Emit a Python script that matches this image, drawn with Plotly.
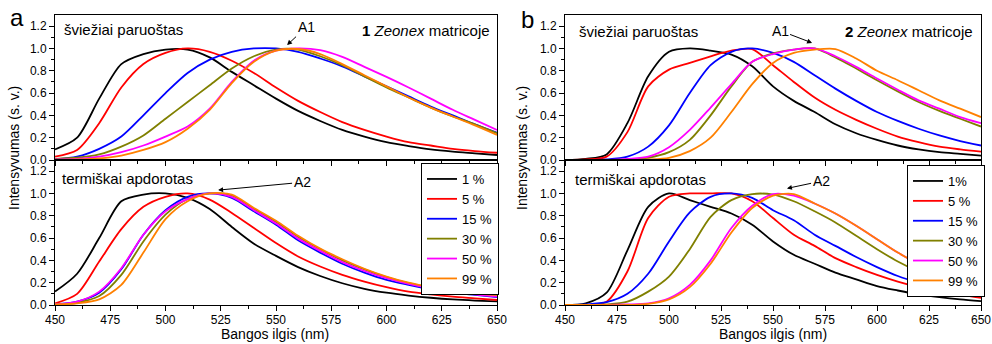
import plotly.graph_objects as go

# ---------------- data ----------------
WAVELENGTH = [450, 460, 470, 480, 490, 500, 510, 520, 530, 540, 550,
              560, 570, 580, 590, 600, 610, 620, 630, 640, 650]

SERIES_A = ["1 %", "5 %", "15 %", "30 %", "50 %", "99 %"]
SERIES_B = ["1%", "5 %", "15 %", "30 %", "50 %", "99 %"]
COLORS = ["#000000", "#FF0000", "#0000FF", "#808000", "#FF00FF", "#FF8000"]

# panel a, freshly prepared
A_FRESH_1 = [0.095, 0.20, 0.55, 0.86, 0.95, 0.99, 0.99, 0.92, 0.79, 0.67, 0.55, 0.44, 0.35, 0.27, 0.21, 0.16, 0.125, 0.095, 0.075, 0.06, 0.045]
A_FRESH_5 = [0.03, 0.09, 0.33, 0.65, 0.86, 0.96, 1.0, 0.97, 0.89, 0.78, 0.65, 0.53, 0.43, 0.34, 0.27, 0.21, 0.16, 0.13, 0.10, 0.08, 0.065]
A_FRESH_15 = [0.005, 0.03, 0.10, 0.21, 0.40, 0.60, 0.78, 0.90, 0.97, 1.0, 1.0, 0.97, 0.91, 0.84, 0.75, 0.66, 0.57, 0.48, 0.40, 0.32, 0.245]
A_FRESH_30 = [0.01, 0.02, 0.05, 0.12, 0.22, 0.37, 0.52, 0.67, 0.82, 0.93, 0.99, 0.99, 0.93, 0.85, 0.75, 0.65, 0.56, 0.47, 0.39, 0.32, 0.24]
A_FRESH_50 = [0.005, 0.01, 0.03, 0.07, 0.13, 0.21, 0.30, 0.46, 0.70, 0.89, 0.98, 1.0, 0.985, 0.925, 0.835, 0.745, 0.65, 0.55, 0.45, 0.36, 0.27]
A_FRESH_99 = [0.0, 0.005, 0.015, 0.04, 0.09, 0.16, 0.28, 0.45, 0.69, 0.88, 0.98, 0.995, 0.95, 0.86, 0.76, 0.66, 0.56, 0.47, 0.39, 0.31, 0.225]

# panel a, thermally treated
A_HEAT_1 = [0.12, 0.28, 0.60, 0.93, 0.99, 1.0, 0.96, 0.86, 0.70, 0.55, 0.44, 0.34, 0.26, 0.195, 0.145, 0.11, 0.085, 0.065, 0.05, 0.04, 0.033]
A_HEAT_5 = [0.015, 0.10, 0.39, 0.68, 0.88, 0.97, 1.0, 0.945, 0.825, 0.69, 0.555, 0.435, 0.345, 0.27, 0.21, 0.16, 0.12, 0.095, 0.075, 0.06, 0.045]
A_HEAT_15 = [0.005, 0.03, 0.11, 0.32, 0.63, 0.85, 0.97, 1.0, 0.96, 0.84, 0.72, 0.58, 0.47, 0.37, 0.29, 0.225, 0.18, 0.14, 0.11, 0.09, 0.07]
A_HEAT_30 = [0.005, 0.02, 0.08, 0.27, 0.57, 0.81, 0.95, 1.0, 0.98, 0.86, 0.745, 0.61, 0.50, 0.40, 0.32, 0.25, 0.195, 0.155, 0.125, 0.10, 0.085]
A_HEAT_50 = [0.005, 0.03, 0.12, 0.33, 0.63, 0.84, 0.95, 1.0, 0.97, 0.85, 0.73, 0.595, 0.485, 0.385, 0.305, 0.24, 0.19, 0.15, 0.12, 0.095, 0.075]
A_HEAT_99 = [0.005, 0.015, 0.05, 0.18, 0.47, 0.77, 0.93, 1.0, 0.99, 0.87, 0.755, 0.62, 0.505, 0.41, 0.325, 0.255, 0.20, 0.16, 0.13, 0.105, 0.09]

# panel b, freshly prepared
B_FRESH_1 = [0.0, 0.01, 0.05, 0.33, 0.75, 0.97, 1.0, 0.98, 0.945, 0.84, 0.66, 0.53, 0.43, 0.32, 0.24, 0.18, 0.13, 0.095, 0.07, 0.055, 0.04]
B_FRESH_5 = [0.0, 0.005, 0.03, 0.25, 0.66, 0.81, 0.87, 0.93, 0.98, 0.995, 0.85, 0.70, 0.56, 0.45, 0.36, 0.28, 0.21, 0.16, 0.12, 0.095, 0.075]
B_FRESH_15 = [0.0, 0.0, 0.005, 0.03, 0.12, 0.31, 0.60, 0.85, 0.97, 1.0, 0.96, 0.88, 0.76, 0.64, 0.53, 0.43, 0.35, 0.28, 0.22, 0.17, 0.13]
B_FRESH_30 = [0.0, 0.0, 0.0, 0.005, 0.02, 0.07, 0.18, 0.40, 0.66, 0.88, 0.955, 0.99, 1.0, 0.92, 0.82, 0.715, 0.615, 0.52, 0.44, 0.37, 0.30]
B_FRESH_50 = [0.0, 0.0, 0.0, 0.01, 0.03, 0.115, 0.27, 0.47, 0.68, 0.88, 0.95, 0.99, 1.0, 0.93, 0.835, 0.73, 0.63, 0.535, 0.46, 0.385, 0.33]
B_FRESH_99 = [0.0, 0.0, 0.0, 0.0, 0.005, 0.02, 0.08, 0.20, 0.43, 0.68, 0.87, 0.96, 0.99, 0.995, 0.91, 0.80, 0.715, 0.625, 0.535, 0.46, 0.385]

# panel b, thermally treated
B_HEAT_1 = [0.0, 0.015, 0.11, 0.49, 0.88, 1.0, 0.94, 0.88, 0.82, 0.72, 0.57, 0.45, 0.37, 0.29, 0.23, 0.17, 0.13, 0.095, 0.07, 0.05, 0.035]
B_HEAT_5 = [0.0, 0.0, 0.03, 0.30, 0.78, 0.97, 1.0, 1.0, 1.0, 0.93, 0.78, 0.63, 0.53, 0.42, 0.34, 0.27, 0.21, 0.16, 0.12, 0.09, 0.065]
B_HEAT_15 = [0.0, 0.005, 0.025, 0.10, 0.28, 0.57, 0.83, 0.97, 1.0, 0.96, 0.85, 0.76, 0.63, 0.53, 0.43, 0.34, 0.26, 0.20, 0.15, 0.11, 0.08]
B_HEAT_30 = [0.0, 0.0, 0.005, 0.03, 0.12, 0.255, 0.50, 0.79, 0.94, 0.995, 0.99, 0.93, 0.84, 0.74, 0.62, 0.50, 0.39, 0.30, 0.23, 0.17, 0.13]
B_HEAT_50 = [0.0, 0.0, 0.0, 0.005, 0.015, 0.06, 0.18, 0.40, 0.69, 0.89, 0.995, 0.98, 0.91, 0.82, 0.71, 0.59, 0.47, 0.37, 0.30, 0.245, 0.20]
B_HEAT_99 = [0.0, 0.0, 0.0, 0.0, 0.01, 0.05, 0.16, 0.37, 0.65, 0.87, 0.98, 0.995, 0.91, 0.82, 0.71, 0.59, 0.47, 0.37, 0.30, 0.245, 0.20]

A_FRESH = [A_FRESH_1, A_FRESH_5, A_FRESH_15, A_FRESH_30, A_FRESH_50, A_FRESH_99]
A_HEAT = [A_HEAT_1, A_HEAT_5, A_HEAT_15, A_HEAT_30, A_HEAT_50, A_HEAT_99]
B_FRESH = [B_FRESH_1, B_FRESH_5, B_FRESH_15, B_FRESH_30, B_FRESH_50, B_FRESH_99]
B_HEAT = [B_HEAT_1, B_HEAT_5, B_HEAT_15, B_HEAT_30, B_HEAT_50, B_HEAT_99]

Y_TICKS = [0.0, 0.2, 0.4, 0.6, 0.8, 1.0, 1.2]
Y_MINOR = [0.1, 0.3, 0.5, 0.7, 0.9, 1.1]

# ---------------- figure ----------------
W, H = 992, 344
FONT = "Arial, Liberation Sans, sans-serif"
fig = go.Figure()

panels = [
    ("x", "y", A_FRESH, SERIES_A, None),
    ("x2", "y2", A_HEAT, SERIES_A, "legend"),
    ("x3", "y3", B_FRESH, SERIES_B, None),
    ("x4", "y4", B_HEAT, SERIES_B, "legend2"),
]
for xa, ya, data, names, leg in panels:
    for vals, name, col in zip(data, names, COLORS):
        kw = dict(showlegend=False)
        if leg:
            kw = dict(showlegend=True, legend=leg)
        fig.add_trace(go.Scatter(
            x=WAVELENGTH, y=vals, name=name, mode="lines",
            line=dict(color=col, width=1.8, shape="spline", smoothing=0.8),
            xaxis=xa, yaxis=ya, **kw))

def px_x(p):
    return p / W

def px_y(p):
    return 1 - p / H

XA = [px_x(55), px_x(497)]
XB = [px_x(565), px_x(981)]
Y_TOP = [px_y(160), px_y(15)]
Y_BOT = [px_y(305), px_y(160)]

def xaxis(domain, anchor, labels):
    return dict(domain=domain, anchor=anchor, range=[450, 650], automargin=False,
                tickmode="linear", tick0=450, dtick=25,
                ticks="outside", ticklen=5, tickwidth=1, tickcolor="black",
                ticklabelstandoff=-1,
                minor=dict(tickmode="linear", tick0=450, dtick=12.5, ticks="outside",
                           ticklen=3, tickwidth=1, tickcolor="black", showgrid=False),
                showticklabels=labels, showline=True, linecolor="black", linewidth=1,
                mirror=True, showgrid=False, zeroline=False,
                tickfont=dict(size=12, family=FONT, color="black"))

def yaxis(domain, anchor):
    return dict(domain=domain, anchor=anchor, range=[0, 1.3], automargin=False,
                tickmode="array", tickvals=Y_TICKS,
                ticktext=[f"{v:.1f}" for v in Y_TICKS],
                ticks="outside", ticklen=5, tickwidth=1, tickcolor="black",
                minor=dict(tickmode="array", tickvals=Y_MINOR, ticks="outside",
                           ticklen=3, tickwidth=1, tickcolor="black", showgrid=False),
                showline=True, linecolor="black", linewidth=1, mirror=True,
                showgrid=False, zeroline=False,
                tickfont=dict(size=12, family=FONT, color="black"))

legend_style = dict(xanchor="left", yanchor="top", bordercolor="black", borderwidth=1,
                    bgcolor="white", font=dict(size=13, family=FONT, color="black"),
                    tracegroupgap=0, itemwidth=30)

fig.update_layout(
    width=W, height=H, margin=dict(l=0, r=0, t=0, b=0, autoexpand=False),
    paper_bgcolor="white", plot_bgcolor="white",
    font=dict(family=FONT, size=12, color="black"),
    xaxis=xaxis(XA, "y", False), yaxis=yaxis(Y_TOP, "x"),
    xaxis2=xaxis(XA, "y2", True), yaxis2=yaxis(Y_BOT, "x2"),
    xaxis3=xaxis(XB, "y3", False), yaxis3=yaxis(Y_TOP, "x3"),
    xaxis4=xaxis(XB, "y4", True), yaxis4=yaxis(Y_BOT, "x4"),
    legend=dict(x=px_x(421), y=px_y(163), **legend_style),
    legend2=dict(x=px_x(907), y=px_y(165), **legend_style),
)

ann = []

def text(x, y, s, size=15, xanchor="left", angle=0):
    ann.append(dict(x=px_x(x), y=px_y(y), xref="paper", yref="paper", text=s,
                    showarrow=False, xanchor=xanchor, yanchor="middle", textangle=angle,
                    font=dict(size=size, family=FONT, color="black")))

text(17, 18, "a", size=24, xanchor="center")
text(527, 20, "b", size=24, xanchor="center")
text(62, 29, "šviežiai paruoštas")
text(492, 30, "<b>1</b> <i>Zeonex</i> matricoje", xanchor="right")
text(577, 32, "šviežiai paruoštas")
text(975, 32, "<b>2</b> <i>Zeonex</i> matricoje", xanchor="right")
text(60, 178, "termiškai apdorotas")
text(573, 179, "termiškai apdorotas")
text(14, 148, "Intensyvumas (s. v.)", size=14, xanchor="center", angle=-90)
text(522, 148, "Intensyvumas (s. v.)", size=14, xanchor="center", angle=-90)
text(275, 334, "Bangos ilgis (nm)", size=14, xanchor="center")
text(773, 334, "Bangos ilgis (nm)", size=14, xanchor="center")

def arrow(xr, yr, label, head, tail):
    ann.append(dict(x=head[0], y=head[1], xref=xr, yref=yr,
                    ax=tail[0], ay=tail[1], axref=xr, ayref=yr,
                    text=label, showarrow=True, arrowhead=2, arrowsize=1,
                    arrowwidth=1, arrowcolor="black",
                    font=dict(size=14, family=FONT, color="black")))

arrow("x", "y", "A1", (555.0, 1.03), (563.6, 1.19))
arrow("x2", "y2", "A2", (523.8, 1.03), (561.8, 1.10))
arrow("x3", "y3", "A1", (568.8, 1.05), (553.4, 1.16))
arrow("x4", "y4", "A2", (556.7, 1.045), (573.1, 1.11))

fig.update_layout(annotations=ann)
fig.write_html("out.html")
